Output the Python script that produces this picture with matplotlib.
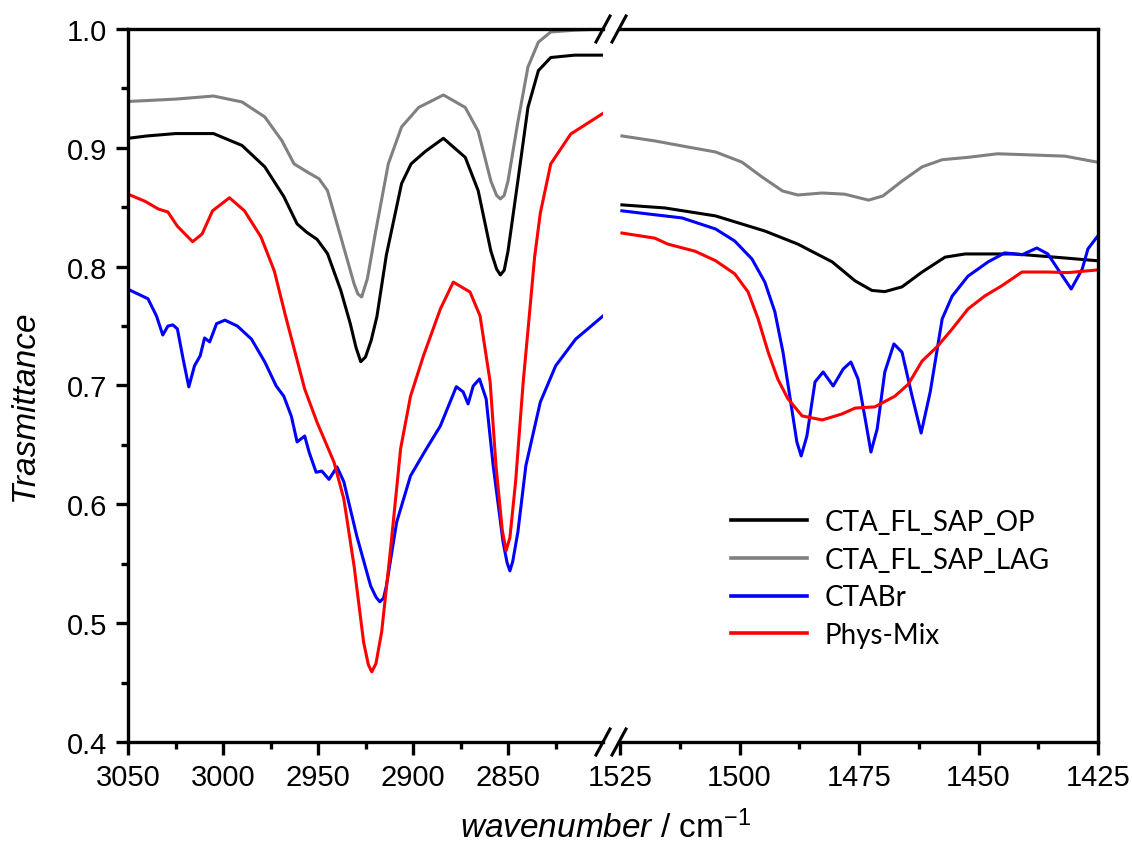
import matplotlib
matplotlib.use("Agg")
import matplotlib.pyplot as plt
from matplotlib.lines import Line2D
from matplotlib.ticker import FixedLocator, MultipleLocator

plt.rcParams["font.family"] = ["Liberation Sans", "DejaVu Sans"]
plt.rcParams["mathtext.fontset"] = "custom"
plt.rcParams["mathtext.rm"] = "Liberation Sans"
plt.rcParams["mathtext.it"] = "Liberation Sans:italic"

# ---- data: C-H stretching region (3050-2800 cm-1) ----
op_wn_hi = [3050, 3040, 3025, 3005, 2990, 2978, 2968, 2961, 2956, 2950.5, 2945, 2938, 2933,
            2930, 2927.5, 2925, 2922, 2919, 2914, 2906, 2901, 2893.5, 2884, 2872.5, 2865.7,
            2859, 2856, 2854, 2852, 2850, 2845, 2839.5, 2834, 2827.5, 2815, 2800]
op_t_hi = [0.908, 0.910, 0.912, 0.912, 0.902, 0.884, 0.859, 0.836, 0.829, 0.823, 0.811, 0.780, 0.752,
           0.732, 0.720, 0.724, 0.738, 0.758, 0.810, 0.870, 0.8865, 0.897, 0.908, 0.892, 0.864,
           0.813, 0.798, 0.793, 0.797, 0.813, 0.870, 0.934, 0.965, 0.976, 0.978, 0.978]

lag_wn_hi = [3050, 3025, 3005, 2990, 2978, 2969, 2962.6, 2956, 2949.5, 2945, 2938, 2931, 2929,
             2927, 2924, 2919.6, 2913, 2906, 2897, 2884, 2872.5, 2865.7, 2859, 2856, 2854, 2852,
             2850, 2845, 2839.5, 2834, 2827.5, 2815, 2800]
lag_t_hi = [0.939, 0.941, 0.9436, 0.9386, 0.926, 0.906, 0.8865, 0.880, 0.874, 0.864, 0.825, 0.7855, 0.777,
            0.7745, 0.790, 0.830, 0.8865, 0.9176, 0.934, 0.9445, 0.934, 0.914, 0.872, 0.860, 0.857, 0.860,
            0.872, 0.920, 0.968, 0.989, 0.9975, 0.999, 1.0]

ctab_wn_hi = [3050, 3039.5, 3035, 3031.7, 3029, 3026.4, 3024, 3021, 3018, 3015, 3012, 3009.7, 3007,
              3003.4, 2999, 2992.4, 2985, 2978, 2972, 2968, 2964, 2961, 2957, 2954.7, 2951, 2948,
              2944.2, 2940, 2936.4, 2929.6, 2922.3, 2919.5, 2917.5, 2915.5, 2914, 2908.6, 2901.3,
              2893, 2885.6, 2877.2, 2873.6, 2871, 2868.3, 2865, 2861.5, 2857.8, 2852.6, 2850.5,
              2849, 2847.5, 2844.8, 2840.6, 2833, 2824.9, 2814.4, 2807, 2800]
ctab_t_hi = [0.781, 0.773, 0.7585, 0.7425, 0.750, 0.751, 0.7476, 0.7224, 0.6988, 0.7166, 0.725, 0.740, 0.7367,
             0.752, 0.755, 0.750, 0.739, 0.7198, 0.6996, 0.691, 0.674, 0.6525, 0.6575, 0.644, 0.627, 0.628,
             0.621, 0.6315, 0.619, 0.5734, 0.5314, 0.522, 0.518, 0.521, 0.5314, 0.585, 0.624,
             0.6466, 0.666, 0.699, 0.6946, 0.6845, 0.6996, 0.7055, 0.6887, 0.6325, 0.5683, 0.551,
             0.544, 0.552, 0.5767, 0.6325, 0.686, 0.7166, 0.739, 0.749, 0.7585]

mix_wn_hi = [3050, 3041, 3034, 3029, 3024, 3016, 3011, 3005.5, 2996.6, 2988.7, 2980, 2973, 2967,
             2957, 2950.5, 2941.6, 2936.4, 2931, 2926, 2923.5, 2921.7, 2919.5, 2916.5, 2911.8,
             2906.5, 2901.3, 2894.5, 2885.6, 2878.8, 2870, 2864.7, 2859.4, 2856.3, 2853, 2851,
             2849, 2846, 2842, 2839, 2836, 2833, 2827.5, 2817, 2800]
mix_t_hi = [0.861, 0.855, 0.8485, 0.846, 0.834, 0.821, 0.8275, 0.847, 0.858, 0.847, 0.825, 0.7964, 0.758,
            0.697, 0.669, 0.6356, 0.6045, 0.548, 0.484, 0.465, 0.459, 0.466, 0.4926, 0.5625,
            0.647, 0.691, 0.725, 0.7644, 0.787, 0.7787, 0.7585, 0.703, 0.632, 0.578, 0.561,
            0.572, 0.619, 0.703, 0.755, 0.808, 0.845, 0.8865, 0.9116, 0.929]

# ---- data: CH2 bending region (1525-1425 cm-1) ----
op_wn_lo = [1524.6, 1515.6, 1505, 1494.7, 1487.8, 1480.6, 1475.8, 1472.3, 1469.6, 1466, 1461.8,
            1457, 1452.8, 1442.4, 1431.9, 1425.2]
op_t_lo = [0.852, 0.8494, 0.8427, 0.830, 0.819, 0.804, 0.788, 0.780, 0.779, 0.783, 0.7955,
           0.808, 0.8107, 0.8107, 0.8073, 0.805]

lag_wn_lo = [1524.6, 1517.7, 1510.8, 1505, 1499.5, 1495.3, 1491, 1487.8, 1482.7, 1478, 1473, 1470,
             1466, 1461.8, 1457.6, 1452.2, 1446, 1438.8, 1431.9, 1425.2]
lag_t_lo = [0.910, 0.9058, 0.9007, 0.8965, 0.888, 0.8755, 0.8637, 0.8603, 0.862, 0.861, 0.856, 0.8595,
            0.872, 0.884, 0.890, 0.892, 0.895, 0.894, 0.893, 0.888]

ctab_wn_lo = [1524.6, 1519, 1512, 1505, 1501, 1497.4, 1494.7, 1492.6, 1490.9, 1489.4, 1488, 1487.1,
              1485.9, 1484.2, 1482.5, 1480.4, 1478.3, 1476.7, 1475.2, 1473.7, 1472.5, 1471.2,
              1469.6, 1467.7, 1466, 1463.9, 1462, 1460.1, 1457.6, 1455.5, 1452.2, 1448, 1444.5,
              1440.9, 1437.8, 1435.5, 1433.4, 1430.6, 1428.3, 1427.1, 1425.2]
ctab_t_lo = [0.847, 0.8443, 0.841, 0.8317, 0.8216, 0.8065, 0.787, 0.762, 0.728, 0.689, 0.6525, 0.6407,
             0.6575, 0.703, 0.7114, 0.6996, 0.7139, 0.7198, 0.7055, 0.6718, 0.644, 0.6634,
             0.7114, 0.735, 0.728, 0.6912, 0.660, 0.6946, 0.756, 0.7753, 0.792, 0.804, 0.8116,
             0.810, 0.8157, 0.8107, 0.798, 0.7812, 0.798, 0.815, 0.825]

mix_wn_lo = [1524.6, 1517.7, 1515, 1509.3, 1505, 1501, 1498.2, 1496.1, 1494, 1492, 1489.9, 1486.9,
             1482.7, 1478.6, 1475.8, 1471.7, 1467.5, 1464.7, 1461.8, 1458.5, 1455.5, 1452.2,
             1448.7, 1445.1, 1440.9, 1435.5, 1431.3, 1425.2]
mix_t_lo = [0.8283, 0.824, 0.819, 0.813, 0.805, 0.794, 0.7787, 0.756, 0.728, 0.7055, 0.689, 0.6744,
            0.671, 0.676, 0.681, 0.682, 0.691, 0.701, 0.7206, 0.7333, 0.7476, 0.7644,
            0.7753, 0.784, 0.7955, 0.7955, 0.795, 0.7972]

labels = ["CTA_FL_SAP_OP", "CTA_FL_SAP_LAG", "CTABr", "Phys-Mix"]
colors = ["black", "#808080", "#0000FF", "#FF0000"]

hi_major = [3050, 3000, 2950, 2900, 2850]
hi_minor = [3025, 2975, 2925, 2875, 2825]

W, H = 1132, 854
fig = plt.figure(figsize=(W / 100, H / 100), dpi=100)

y0, y1 = 1 - 743 / H, 1 - 30 / H
ax1 = fig.add_axes([128 / W, y0, (603 - 128) / W, y1 - y0])
ax2 = fig.add_axes([620 / W, y0, (1098 - 620) / W, y1 - y0])

hi = [(op_wn_hi, op_t_hi), (lag_wn_hi, lag_t_hi), (ctab_wn_hi, ctab_t_hi), (mix_wn_hi, mix_t_hi)]
lo = [(op_wn_lo, op_t_lo), (lag_wn_lo, lag_t_lo), (ctab_wn_lo, ctab_t_lo), (mix_wn_lo, mix_t_lo)]

lw = 2.2
handles = []
for (x, y), c, lab in zip(hi, colors, labels):
    (ln,) = ax1.plot(x, y, color=c, lw=lw, label=lab, solid_joinstyle="round")
    handles.append(ln)
for (x, y), c in zip(lo, colors):
    ax2.plot(x, y, color=c, lw=lw, solid_joinstyle="round")

ax1.set_xlim(3050, 2800)
ax2.set_xlim(1525, 1425)
for ax in (ax1, ax2):
    ax.set_ylim(0.4, 1.0)
    for sp in ax.spines.values():
        sp.set_linewidth(2.4)
    ax.tick_params(axis="both", which="major", direction="out", length=9, width=2.4,
                   labelsize=21, pad=6)
    ax.tick_params(axis="both", which="minor", direction="out", length=5, width=2.4)

ax1.spines["right"].set_visible(False)
ax2.spines["left"].set_visible(False)

ax1.xaxis.set_major_locator(FixedLocator(hi_major))
ax1.xaxis.set_minor_locator(FixedLocator(hi_minor))
ax1.yaxis.set_major_locator(MultipleLocator(0.1))
ax1.yaxis.set_minor_locator(MultipleLocator(0.05))
ax1.yaxis.set_major_formatter(plt.FormatStrFormatter("%.1f"))

ax2.xaxis.set_major_locator(MultipleLocator(25))
ax2.xaxis.set_minor_locator(MultipleLocator(12.5))
ax2.set_yticks([])
ax2.tick_params(axis="y", which="both", left=False, right=False)

# axis break marks
for yb in (y0, y1):
    for xc in (603 / W, 619 / W):
        fig.add_artist(Line2D([xc - 7 / W, xc + 7 / W], [yb - 13 / H, yb + 13 / H],
                              color="black", lw=2.2, transform=fig.transFigure))

fig.text(25 / W, 1 - 406 / H, "Trasmittance", rotation=90, ha="center", va="center",
         fontsize=24, style="italic")
fig.text(606 / W, 1 - 828 / H, r"$\mathit{wavenumber}$ / cm$^{\mathregular{-1}}$",
         ha="center", va="center", fontsize=24)

leg = fig.legend(handles=handles, labels=labels, loc="upper left",
                 bbox_to_anchor=(731 / W, 1 - 510 / H), frameon=False,
                 prop={"family": "Lato", "size": 20}, handlelength=2.75,
                 handletextpad=0.62, labelspacing=0.42, borderpad=0, borderaxespad=0)
for h in leg.get_lines():
    h.set_linewidth(2.6)

fig.savefig("out.png", dpi=100)
